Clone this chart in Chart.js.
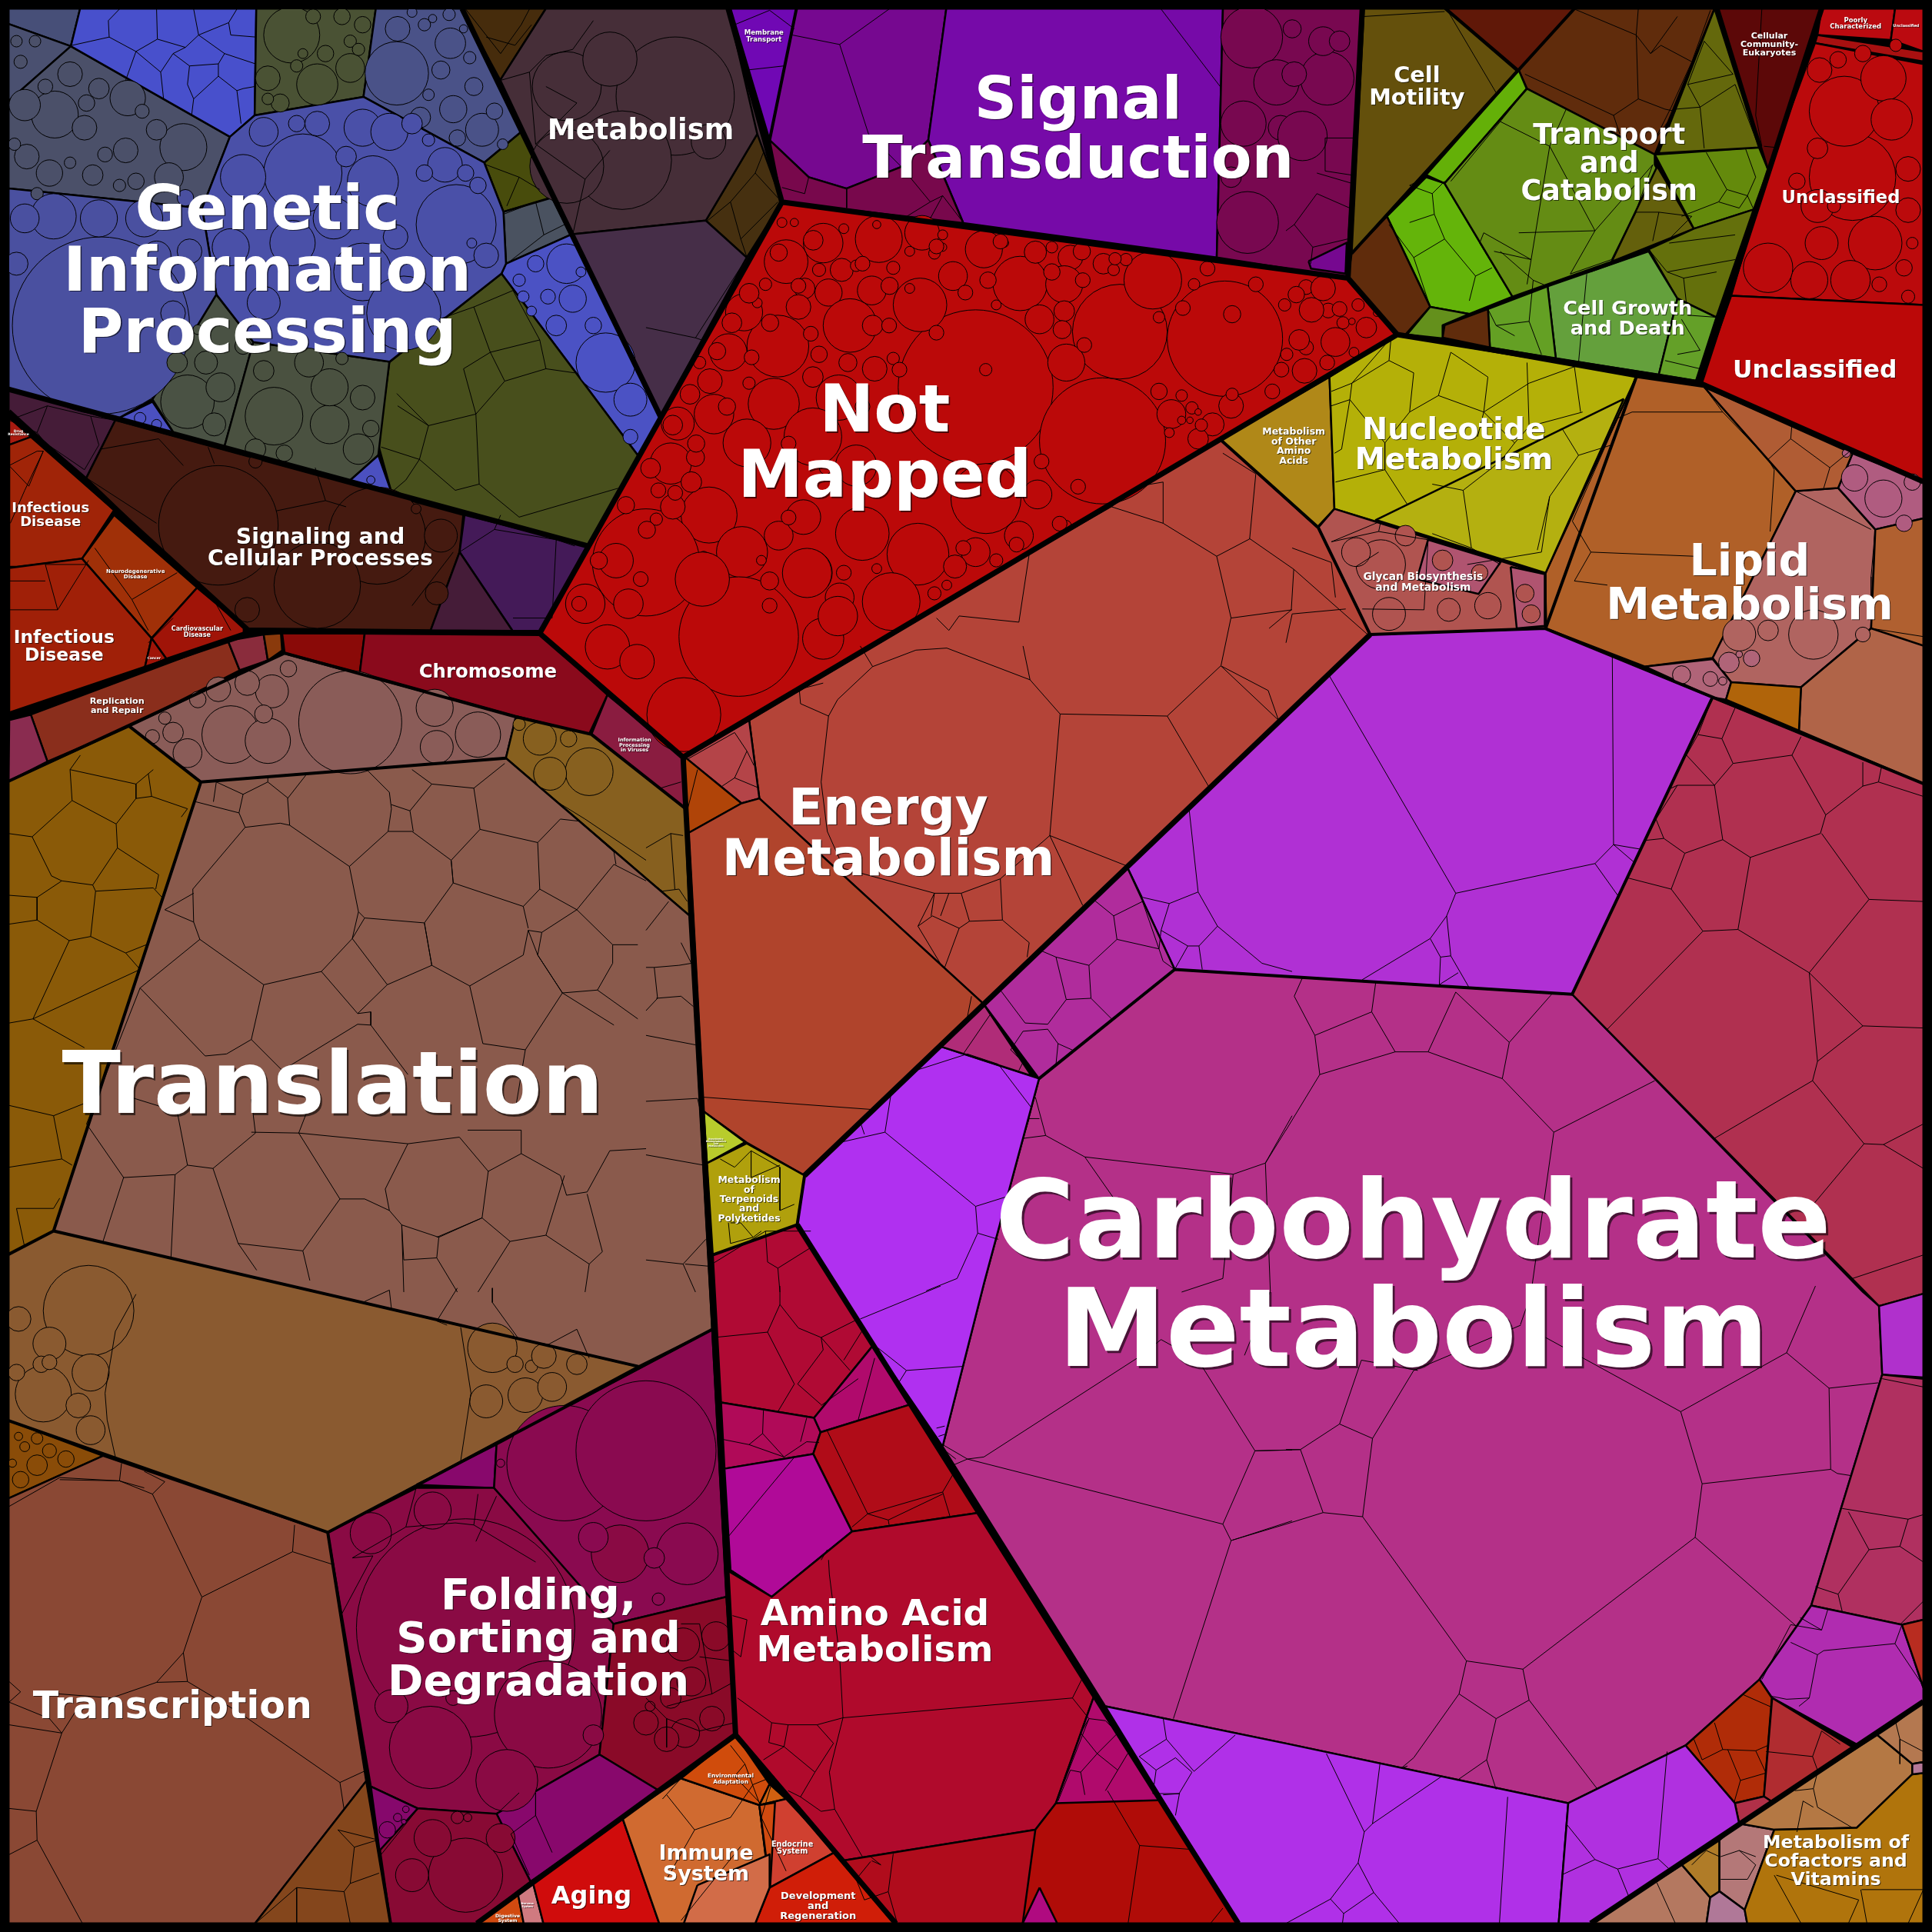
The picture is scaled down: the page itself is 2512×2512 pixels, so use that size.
<!DOCTYPE html>
<html>
<head>
<meta charset="utf-8">
<title>Proteomap</title>
<script src="https://cdn.jsdelivr.net/npm/chart.js@4"></script>
<style>
html,body{margin:0;padding:0;background:#000;}
canvas{display:block;}
</style>
</head>
<body>
<canvas id="chart" width="2512" height="2512"></canvas>
<script>
// cell outlines, x,y,x,y... on a 1568 wide grid
let geneticCells = [
 [7,7,65,7,57.5,37.5,7,19.4],[7,19.4,57.5,37.5,7,82],[7,82,57.5,37.5,186.6,111,164,169,7,153],
 [65,7,208,7,206.7,93.6,186.6,111,57.5,37.5],[208,7,305,7,295,78.6,206.7,93.6],
 [305,7,374.5,7,423,107,393,132,295,78.6],[423,107,448,160,408.6,172,393,132],
 [448,160.5,463,190.6,410.7,214,408.6,172],[463,190.6,524,311,536,338,518,370,407,222,410.7,214],
 [407,222,518,370,476.5,443,317.7,399.6,307,361,316,294],[175.6,239,205.6,277.6,182,363,142,353,123.7,324],
 [205.6,277.6,316,293.6,307,369.5,284,390,182,363],[307,369.5,317.7,399.6,284,390],[123.7,326,142,353,97,339],
 [206.7,93.6,295,78.6,393,132,408.6,172,410.7,214,407,222,316,293.6,205.6,277.6,175.6,239,164,169,186.6,111],
 [7,153,164,169,175.6,239,123.7,324,97,339,7,316]
];
let geneticColors = ["#474f78","#4a5070","#4b5069","#4850cc","#4a5234","#4a5288","#484c0c","#4a5260","#4b52c4","#484f1c","#4a5244","#4a5140","#4b50c0","#4b50c0","#4a50a8","#4a50a0"];

let signalingCells = [
 [7,316,93.6,341,70,388,7,334],[93.6,341,376,418,373,448,349.5,511.6,197,510,70,388],
 [377,418,476.5,443,438,512,416,512,373,448],[373,448,416,512,349.5,511.6]
];
let signalingColors = ["#451c38","#451a10","#441a58","#451c38"];

let diseaseCells = [
 [7.5,339,25,354.6,7.5,361],[7.5,361,25,354.6,92.6,414,66.6,453.4,13.5,460,7.5,460],
 [92.6,418,160,477,123,518,66.6,453.4],[7.5,461,66.6,453.4,123,518,117.5,542,7.5,580],
 [160,477,202,512,135,534.6,123,518],[123,518,135,534.6,117.5,542]
];
let diseaseColors = ["#a81a10","#a02408","#a03008","#a02008","#a01408","#a01408"];

let repairCells = [
 [25,580,185,520,194.5,544,106,589,38.5,618],[185,520,214,515,217.4,536,194.5,544],
 [7.5,584.5,25,580,38.5,618,27,624,7,634],[214,515,228,514,229,528,217.4,536],
 [229,514,296,514,292,546,231,530],[296,514,438,514,493,564,478,596,418,581,292,546],
 [493,564,554,614,556,656,480,596]
];
let repairColors = ["#8a2e1c","#8a2c3c","#8a2c50","#8a3a0c","#8a0a08","#8a0a1c","#8a1c40"];

let translationCells = [
 [105,589.5,230,530.3,418.7,581.8,410.6,615.3,163,634.7],[418.7,581.8,480,596,556,656,559.4,743,410.6,615.3],
 [163,634.7,410.6,615.3,559.4,743,578,1079,518,1109,43.5,999],[7,634,105,589.5,163,634.7,43.5,999,7,1018],
 [7,1018,43.5,999,518,1109,266,1244,7,1153],[7,1153,83.6,1181.5,7,1216],
 [7,1216,83.6,1181.5,266,1243.7,297.6,1445,207,1561,7,1561],[297.6,1445,317,1561,207,1561]
];
let translationColors = ["#8a5c58","#87601f","#8a5a4c","#8a5a08","#8a5a30","#8a4c08","#8a4834","#84461c"];

let foldingCells = [
 [338,1205,403,1172.4,401,1207.6],[266,1243.7,338,1207.6,401,1207.6,488,1304,498,1318,486.5,1424,403,1472.4,339,1467.7,301,1450],
 [403,1172.4,578,1079,589.5,1296,498,1318,401,1207.6],[498,1318,589.5,1296,597,1408,534.3,1453,486.5,1424],
 [403,1472,486.5,1424,534.3,1453,431,1528],[301,1450,339,1467.7,403,1472,431,1528,387,1561,317,1561],[301,1450,339,1467.7,308,1502]
];
let foldingColors = ["#88086c","#8a0a44","#8a0a50","#8a0a28","#88086c","#880a34","#86086c"];

let lowerCells = [
 [387,1561,420,1535,425,1561],[420,1535,432,1526,441,1561,425,1561],[432,1526,505,1475,535,1561,441,1561],
 [505,1475,552.7,1443.3,616.3,1465,624.6,1532,613,1561,535,1561],[552.7,1443.3,597,1408,624.6,1448,616.3,1465],
 [624.6,1448,638,1460,616.3,1465],[616.3,1465,638,1460,678,1503,624.6,1532],[616.3,1465,629,1463,625,1532],
 [624.6,1532,678,1503,727,1561,613,1561],[566,1530,624.6,1505,624.6,1532,613,1561,555,1561]
];
let lowerColors = ["#d24a10","#d07a80","#d00c0c","#d06a30","#d04c0c","#d06010","#d04030","#d04a10","#d01e08","#d26c48"];

let aminoCells = [
 [578.5,1018.5,647,994,708.9,1091.5,660.7,1150.7,585.2,1138.3],[585.2,1138.3,660.7,1150.7,666,1162.4,660,1180,588,1192],
 [708.9,1091.5,738.3,1140,666,1162.4,660.7,1150.7],[666,1162.4,738.3,1140,795,1227.6,691.5,1243,660,1180],
 [588,1192,660,1180,691.5,1243,626.3,1296,592.9,1274.4],
 [691.5,1243,795,1227.6,888.8,1374,857,1463.4,840.3,1485,684.8,1510,598,1410,590,1274.4,626.3,1296],
 [684.8,1510,840.3,1485,843.7,1532,830,1561,727,1561],[840.3,1485,857,1463.4,898.8,1453.3,944,1461,1005,1561,830,1561],
 [843.7,1532,858,1561,830,1561],[888.8,1374,944,1461,857,1463.4]
];
let aminoColors = ["#b00a34","#b00a58","#b00a6c","#b00c18","#b00a98","#b00a2c","#b00c1c","#b00c08","#b00a80","#b00a6c"];

let carbohydrateCells = [
 [843.3,875.4,953.4,786.8,1276,806.9,1512,1048.6,1525,1060,1527.6,1115.6,1470,1303,1428,1363,1368,1416.6,1272.8,1463.4,1043.7,1415,897,1384.8,765,1174,798.6,1041.6],
 [647,994,653,954,763.4,849.3,843.3,875.4,798.6,1041.6,765,1174,759,1165,708.9,1091.5],
 [914.9,704.2,1112,515,1254.4,510,1389.8,566,1276,806.9,953.4,786.8],
 [798.5,815,914.9,704,953.4,786.8,843.3,875.4],[798.5,815.2,837,873,763.4,849.3],
 [1389.8,566,1561,636,1561,1050,1525,1060,1276,807],[1525,1060,1561,1050,1561,1118,1527.6,1115.6],
 [1527.6,1115.6,1561,1119,1561,1314.6,1543.6,1318.6,1470,1303],
 [1470,1303,1543.6,1318.6,1561,1369.7,1561,1383,1508.5,1416.6,1438.3,1378,1428,1363],
 [1428,1363,1438,1378,1431.6,1458,1408,1463.4,1368,1416.6],[1438.3,1378,1503.5,1418,1438.3,1462.4,1431.6,1458],
 [1431.6,1458,1438.3,1462.4,1411.5,1480,1408,1463.4],[1543.6,1318.6,1561,1314.6,1561,1369.7],
 [897,1384.8,1043.7,1415,1272.8,1463.4,1265,1561,1005,1561],[1272.8,1463.4,1368,1416.6,1408,1463.4,1411.5,1480,1291,1561,1265,1561]
];
let carbohydrateColors = ["#b43088","#b030f0","#b030d4","#b02c9c","#b02c78","#b03050","#b030cc","#b03060","#b02cb0","#b02c08","#b02c30","#b03048","#b82c20","#b030e8","#b030e0"];

let cofactorCells = [
 [1291,1561,1365,1513.5,1388,1540,1385,1561],[1365,1513.5,1395.5,1493.5,1395.5,1535.3,1388,1540],
 [1395.5,1493.5,1411.5,1480,1440,1485,1416,1550,1395.5,1535],[1388,1540,1395.5,1535,1416,1550,1418,1561,1385,1561],
 [1411.5,1480,1523.6,1408,1552,1431.6,1552,1440,1507,1483.4,1440,1485],[1523.6,1408,1538.6,1398,1561,1381,1561,1430,1552,1431.6],
 [1440,1485,1507,1483.4,1552,1440,1561,1439,1561,1561,1418,1561,1416,1550],[1552,1431.6,1561,1430,1561,1439,1552,1440]
];
let cofactorColors = ["#b47860","#b07c28","#b47878","#b07898","#b47844","#b47850","#b0740c","#b47898"];

let energyCells = [
 [608,584.5,990.8,357,1069.8,428,1112,515,798.5,815,616.3,648],[556,614.6,608,584.5,616.3,648,601.8,652],
 [556,614.6,601.8,652,558.8,676,556,656],[558.8,676,601.8,652,616.3,648,798.5,815,653,954,606,927.3,571,902],
 [571,902,604.6,927,573.8,944],[573.8,944,606,928,653,954,647,994,578.5,1018.5]
];
let energyColors = ["#b44438","#b44448","#b04408","#b0442c","#b8cc2c","#b0a00c"];

let topCells = [
 [634,164,1094,225.7,1134,271.5,554.4,614.6,438,514],
 [375,7,591,7,634.6,164,536,338],[374.5,7,443,7,406,65],[614.6,108.7,634.6,164,606,209,572.8,179],
 [443,7,591,7,614.6,108.7,572.8,179,465,190,406,65],[465,190,572.8,179,606,209,536,338],
 [592.9,7,646.4,7,624.6,113.7],[646.4,7,768,7,753.4,113.7,731.6,135.4,687,153,656.4,143.8,624.6,113.7],
 [768,7,992.5,7,987.5,209,781.8,181,753.4,113.7],[624.6,113.7,656.4,143.8,687,153,731.6,135.4,753.4,113.7,781.8,181,634.6,164],
 [992.5,7,1105.6,7,1094,225.7,987.5,209],[1062,212,1093,197,1092,222,1064,218]
];
let topColors = ["#bb0909","#462e38","#462c0c","#463010","#462e38","#462e48","#7008b4","#760890","#760aa8","#78084c","#780850","#760890"];

let motilityCells = [
 [1107,7,1172.4,7,1231,57.5,1097,205.7],[1174,7,1277.8,7,1232.6,56.9],[1277.8,7,1391.5,7,1343,125.4,1239.3,72,1232.6,57],
 [1232.6,57,1239,72,1172.4,148.8,1157.4,142],[1157.4,143.8,1172.4,148.8,1227.6,240.8,1192.5,254.8,1160.7,249,1125.6,175.6],
 [1125.6,175.6,1160.7,249,1140.7,271.5,1134,271.5,1094,225.7,1097,205.7],
 [1239.3,72,1343,125.4,1343,133.8,1374.7,185.6,1308,212.3,1227.6,240.8,1172.4,148.8],[1345,135,1374.7,185.6,1308,212.3],
 [1343,125.4,1427.6,119.7,1435,137.8,1423.2,170,1374.7,185.6],[1391.5,7,1427.6,119.7,1346,124.4],
 [1423.2,170,1393,257.5,1361,242,1338,202.3,1374.7,185.6],[1338,204,1361.4,242.4,1346.3,304,1262.7,291,1256,232.4],
 [1361.4,242.4,1393,257.5,1376.4,309,1346.3,304],[1207.6,250.8,1256,232.4,1262.7,291,1209.2,282],
 [1172.4,264,1207.6,250.8,1209.2,282,1170.8,274],[1142,271.5,1160.7,249,1192.5,254.8,1170.8,264,1170.8,274.6],
 [1394.8,7,1478.4,7,1435,137.8],[1478.4,7,1538,7,1534.6,32.4,1475,28.4],[1538,7,1561,7,1561,41.8,1534.6,32.4],
 [1475,28.4,1561,41.8,1561,50,1473,35],[1473,35,1561,52,1561,247.5,1405,240,1435,137.8],[1405,240,1561,247.5,1561,389.6,1379.8,311]
];
let motilityColors = ["#64500c","#601808","#602c0c","#64b008","#64b40a","#602c0c","#648c14","#64600c","#648a0c","#64680c","#64700c","#64a03c","#64a028","#64a024","#602c0c","#64901c","#5c0808","#bb0a10","#bb0a10","#a81010","#bb0a0c","#bb0808"];

let lipidCells = [
 [1328,306,1383,314,1457.4,398.6,1408,498,1390,534,1335,541,1254.4,510,1254.4,465],
 [1457.4,398.6,1491.8,396,1522,429.7,1518.6,510,1461.7,557.7,1405,553.7,1390,534,1408,498],
 [1491.8,396,1503.5,368,1561,391,1561,420.7,1522,429.7],[1383,314,1503.5,368,1491.8,396,1457.4,398.6],
 [1522,429.7,1561,420.7,1561,527,1518.6,510],[1518.6,510,1561,524,1561,636,1460,593,1461.7,557.7],
 [1335,541,1390,535,1405,553.7,1400.8,567.8,1389.8,566],[1405,553.7,1461.7,557.7,1460,593,1400.8,567.8],
 [1079,306,1083,413,1069,428,990.8,357],[1079,306,1134,271.5,1328,306,1254,465,1083,413],
 [1317.9,323.7,1254.4,465,1116.6,422],
 [1083,413,1254,466.6,1255,510,1112,515,1070,428],[1159,438,1218,456,1200,482,1150,470],[1226,460,1253.7,466,1253.7,508,1231,510]
];
let lipidColors = ["#b06028","#b06460","#b05c80","#b05c34","#b06030","#b06448","#b06478","#b0640a","#b08818","#b4b008","#b4b010","#b05450","#b05470","#b05470"];

// thick group borders, drawn over everything else
let thickBorders = [
 [375,7,536,338],[634.6,164,1094,225.7,1134,271.5,554.4,614.6,438,514,634.6,164],[591,7,634.6,164],[1105.6,7,1094,225.7],
 [1134,271.5,1379.8,311,1561,391],[1379.8,311,1478.4,7],[7,316,476.5,443],[438,514,197,512],[7,334,202,512],[7,580,202,514],
 [554.4,614.6,577.8,1048.6,597,1408],[597,1408,387,1561],[597,1408,727,1561],[653,954,1112,515],[647,994,1005,1561],[1291,1561,1561,1381]
];
let mediumBorders = [
 [7,634,231,530,418.7,581.8,480,596,556,656],[1277.8,7,1097,205.7],[163,634.7,410.6,615.3],[1112,515,1254,510,1561,636],
 [990.8,357,1069.8,428,1112,515],[1254.4,510,1328,306],[843.3,875.4,953.4,786.8,1276,806.9,1389.8,566],[653,954,647,994,578.5,1018.5],
 [266,1243.7,578,1079],[7,1153,266,1243.7,297.6,1445,317,1561],[43.5,999,518,1109],[7,1018,43.5,999,163,634.7,105,589.5],
 [646.4,7,624.6,113.7]
];

// inner thin walls read on the 1568 grid
let wallsWide = [
 [999,501.6,991,540],[1048,495,1050,462,1014,437],[1050,462,1110,515],[1048,495,1030,510],[1000,1250,1043.7,1237],[1018.6,1177.5,1055,1176.5],[1027,944,1043.7,917],[1027,944,1031,1048,1010,1100],[1243,1049,1234,1075]
];
// inner thin walls, x,y,x,y... per zoom crop
let wallsZ1 = [
 [175,110,220,100,265,90,263,50,290,22],[265,90,330,125,382,95,380,22],[382,95,450,115,482,85,470,22],[330,125,305,195],[330,125,390,175,420,130,450,115],[390,175,397,240],
 [420,130,460,160,530,155,545,130,620,155],[482,85,555,55,575,22],[482,85,545,130],[555,55,560,85,622,90],[460,160,455,205,470,240,530,185,530,155],[530,185,575,220,590,215,618,210],[470,240,465,280],[575,220,585,300],
 [963,955,1040,1033,1155,1005,1225,925,1325,895,1395,905],[1125,895,1155,1005,1163,1175,1260,1255,1500,1185],[1125,895,1190,855,1150,745,1065,775],[1190,855,1310,825,1245,705,1150,745],[1310,825,1325,895],[1225,925,1190,855],[1040,1033,1018,1115,1105,1190,1163,1175],[965,985,1040,1033],[925,1085,1018,1115],[1018,1115,985,1165,950,1195],
 [245,1090,385,1065,445,1130],[380,1270,210,1160],[505,1085,520,1125],[670,1240,790,1215,765,1135],[840,1230,790,1215],[1000,1470,1100,1340],[1115,1340,1200,1285,1350,1310,1395,1325],[1200,1285,1215,1250],[1350,1310,1340,1500,1245,1500],
 [22,1020,115,985,90,1050,22,1020],[115,985,220,1010,240,1080,205,1140,110,1075,90,1050],[220,1010,280,1020],[110,1075,210,1160],
 [1285,175,1325,135,1390,120,1440,50],[1215,195,1285,175,1300,350,1420,435,1480,365],[1300,350,1400,250,1325,210],[1390,570,1420,435],
 [1130,22,1215,130,1265,60,1285,22],[1180,90,1250,110,1290,60],
 [1180,400,1260,430,1310,460],[1230,500,1260,430],[1222,520,1300,490,1320,570,1230,640],[1320,570,1380,540],
 [22,1130,70,1180,105,1095],[22,1130,90,1095,105,1095],[105,1095,60,1190,25,1270],[210,1370,110,1370,140,1480,215,1360],[22,1410,110,1410],[140,1480,22,1480],[230,1330,320,1455],[320,1455,430,1390],[320,1455,360,1530],
 [420,1500,360,1560],[510,1440,560,1530]
];
let wallsZ2 = [
 [0,550,145,535],[0,795,120,820,245,625],[120,820,135,825],[205,490,230,580,245,625],[205,490,265,420,285,370],[205,490,150,535],[265,420,320,480],[230,580,320,490],
 [355,85,470,108,590,22],[470,108,540,325,620,405],[1250,22,1395,212],[245,170,335,160],[215,60,300,25,360,70],[395,430,385,470,330,455],[487,458,487,505],[620,405,690,490,625,530],[690,490,720,475,770,540],[720,475,690,530],
 [905,1510,930,1345,1130,1230,1255,1270,1385,1350,1465,1308,1480,1150,1400,1100],[1385,1350,1420,1500,1568,1480],[905,1510,760,1495,735,1530,705,1500],[1255,1270,1255,1170,1195,1180,1130,1230]
];
let wallsZ3 = [
 [15,1490,145,1478],[15,1490,0,1560],
 [95,335,165,335,160,425,95,415,95,335],[20,545,75,470,155,505,150,580,65,600,20,545],[75,420,160,445],[0,560,20,545],[65,600,60,640],
 [390,22,510,225],[190,40,385,28],[700,22,850,85,885,130,910,110,985,150,935,260,895,340],[850,85,855,240,795,280,580,180],[855,240,920,265,945,270,895,340],[795,280,810,325],[855,22,850,85],[885,130,950,40],[985,150,1030,25],
 [1015,100,1085,180,975,205,1015,100],[975,205,1005,260,1090,205,1148,358],[1005,260,1015,360],[945,265,1005,260],
 [585,215,520,295,640,355,595,630,480,565],[520,295,400,440],[640,355,750,560,690,665],[750,560,565,565],[595,630,505,610],[750,560,890,400,850,510,790,630],[790,630,690,665],[640,355,680,265],[480,565,470,590,550,720],[595,630,585,690],
 [1070,460,1020,370],[1070,460,1120,475,1140,430,1115,360],[1070,460,1050,490,960,525],[1120,475,1100,505,1050,490],[1120,475,1135,508],
 [850,515,905,515,985,525,930,580],[850,515,805,605],[905,515,890,585],
 [880,605,925,660,1090,630],[925,660,965,675,1045,660],[965,675,975,765,1045,770],[930,590,1090,570],
 [730,665,710,880],[740,660,880,610],[950,860,1005,850,960,775],[920,875,1005,895],
 [520,610,600,680,590,780,510,790,490,750],[600,680,635,695],[590,780,620,860],[510,790,555,815],
 [300,540,360,520,385,580,310,625,250,545],[385,580,460,670,445,730],[310,625,350,745],[360,520,355,470,385,440],[460,670,500,650],[355,470,300,450,340,430],
 [1155,20,1140,280,1155,355],[1160,355,1190,358,1170,410],
 [840,1000,1060,1000,1170,1115,1235,1190],[840,1000,805,1015,695,1265,740,1340,990,1350],[740,1340,700,1410,780,1420],[1060,1000,1015,940],[1170,1115,1225,1065,1320,1135,1375,1090],[1225,1065,1228,1030],[1170,1115,1185,1140,1175,1290],[1320,1135,1305,1185],
 [1420,1285,1237,1192],[1430,1285,1420,1400,1420,1525,1547,1545],
 [110,950,160,930,255,820,250,875,310,905,300,1000,370,960,400,855,490,915,480,1000,590,930,700,890,715,1000],[250,875,160,930,155,970,110,985],[155,970,135,1090,118,1100],[300,1000,240,1075,155,970],[240,1075,240,1140,295,1225,220,1260],[370,960,480,1000,465,1060],[480,1000,555,1075,520,1120],[555,1075,590,1035,720,1000],[590,1035,585,880],[240,1140,120,1170],
 [440,1370,620,1340,640,1205,710,1105],[520,1120,670,1040,710,1105,790,1080],[355,1175,430,1190,450,1330,520,1370],[520,1120,430,1190],[450,1330,355,1295],[640,1205,610,1335],
 [110,1315,225,1290,345,1310,335,1480,185,1478],[225,1290,230,1265,110,1315],[170,1375,225,1340],[15,1330,110,1365,120,1450]
];
let wallsZ4 = [
 [595,440,680,430,703,435,848,535,870,645,855,710,780,790,640,822,485,712,470,670,468,590,595,440],[703,435,698,370,745,310,890,300,945,355,950,395,942,450,848,535],
 [942,450,1000,450,1095,520,1100,575,1030,672,885,660,870,645],[885,660,855,710,940,822,1048,775,1030,672],[780,790,868,892,940,822],[868,892,900,888,900,920,868,918],[640,822,610,955,685,1030,868,918],
 [610,955,550,990,498,995,340,830,485,712],[900,920,990,1040],[1048,775,1140,825,1172,965,1275,980,1365,842,1305,750,1282,690,1270,750],[1140,825,1270,750],[1030,672,1048,775],[1100,575,1270,632,1282,685],
 [1100,575,1095,520,1165,445,1305,477,1310,590,1270,632],[1310,590,1400,640,1490,530,1568,570],[1305,477,1360,420,1405,425,1490,500,1495,530],[1400,640,1315,695,1282,690],[1315,695,1305,750,1365,842,1450,835,1487,770,1487,725,1548,725],[1400,640,1487,725],[1450,835,1548,905],
 [1165,445,1150,345,1225,285],[1150,345,1048,335,995,400,1003,450],[995,400,950,385],[1048,335,1000,300],[470,600,400,640,470,670],[595,440,580,405,475,378],[580,405,590,360,650,330,700,370],[650,330,650,315],[590,360,525,330,518,378],
 [610,1180,725,1182,745,1130],[340,830,210,1160,300,1290,425,1283,455,1260,430,1130],[300,1090,430,1130],[300,1290,250,1445],[425,1283,415,1485],[455,1260,517,1268,620,1182,610,1100],[517,1268,578,1450,735,1468,825,1342,725,1182],[578,1450,623,1515],[735,1468,752,1540],
 [825,1342,885,1342,945,1370,935,1318,990,1208,1115,1192,1185,1275,1170,1388,1065,1435,975,1405,945,1370],[975,1405,980,1490,1060,1485,1065,1435],[1060,1435,1170,1388,1238,1445,1325,1430,1430,1500,1462,1470,1425,1330],[1185,1275,1265,1232,1360,1285,1375,1333,1425,1325,1480,1225,1568,1220],[1370,1285,1325,1430],[1265,1232,1265,1175,1135,1175],[1275,980,1250,1130],[725,1182,990,1208],[1238,1445,1160,1568],[975,1405,980,1568],[1060,1485,1110,1568],[1430,1500,1420,1568],[1365,842,1490,920],
 [20,455,78,463,175,375,282,432,285,490,225,580,150,570,125,558,78,463],[175,375,170,300,195,265],[170,300,330,335,372,300],[330,335,330,370,368,365,360,310],[368,365,455,395,440,415],[282,432,330,370],[285,490,385,555,378,590],[225,580,232,595,372,587,395,612],[150,570,90,610,22,605],[90,610,90,665,168,715,220,705,232,595],[90,665,22,675],[220,705,305,745,340,785,80,905,168,715],[80,905,22,915],[80,905,205,975],[130,1140,22,1115],[130,1140,205,1110],[130,1140,150,1245,22,1265],[150,1245,175,1260],[40,1365,130,1365,145,1340],[40,1365,60,1460],[305,745,355,725],
 [1355,380,1420,420,1568,520]
];
let wallsZ5 = [
 [932,82,1005,165,1265,170,1365,340],[1005,165,980,460,1170,535],[1265,170,1395,48,1535,180,1510,108,1395,48],[915,0,932,82,730,5,655,10,550,50,465,130,443,170,375,140,372,105,430,90],[443,170,425,330,440,450],[550,50,520,0],[980,460,1060,630],[860,565,765,600,700,600,660,680,720,780],[860,565,865,665,785,668,765,600],[785,668,760,685,695,655,660,680],[865,665,930,720,925,755],[760,685,725,780],[700,600,692,655],[735,600,715,655],[440,450,480,540,700,600],[980,460,860,565],
 [100,275,215,210,245,255,215,320,185,340],[245,255,262,290],[215,320,275,345],[140,1095,550,1125],[790,850,780,900],[125,300,100,400],[250,180,275,370],
 [580,1180,800,1360,805,1425,855,1440],[580,1180,595,1085,655,1030,780,990,855,1015,935,1120],[800,1360,880,1335],[580,1180,470,1205,520,1155,530,1185],[805,1425,755,1535,680,1565],[650,1030,715,972],
 [860,835,920,915,975,918,1020,858,995,755,1075,775,1143,712,1135,655,1088,617],[975,930,915,935,885,980,955,1050],[975,930,1000,965,995,1015],[1000,965,1038,982],[1020,858,1080,855,1130,905],[1080,855,1075,775],[1143,712,1245,735,1205,620,1135,655],[1245,735,1255,765,1283,785],[995,755,960,740,860,835],[770,990,835,895],[905,1030,915,1010,935,1040],
 [1170,538,1205,610,1270,625,1340,597,1318,395],[1340,597,1387,680,1495,770,1568,790],[1387,680,1342,728,1350,785],[1342,728,1315,728,1250,690,1270,625],[1315,728,1283,785],[1250,690,1245,735],
 [945,1095,970,1188,1065,1240,1425,1282,1503,1255,1568,1140],[1065,1240,1135,1340],[970,1188,915,1195,930,1147,955,1147],[1425,1282,1400,1535,1300,1568],
 [0,690,55,620],[0,780,20,780,80,775,110,770,85,720],[25,855,85,850,115,875],[20,780,28,855,0,885],[0,945,120,968],[0,1105,125,1098,130,1120],[0,1235,140,1260],[0,1490,90,1500,145,1440],[90,1500,120,1568],[95,1500,150,1505],
 [160,1500,290,1420,295,1495,320,1510,400,1460],[290,1420,400,1420],[320,1510,325,1568],[0,490,60,455,90,460],[60,455,70,590],[0,565,40,595,80,590,100,620],
 [180,1245,215,1265,255,1225,325,1265,325,1370,360,1355],[255,1225,255,1290,325,1260],[200,1400,205,1450,260,1435,230,1400,205,1400],[260,1435,280,1420],[35,345,85,330]
];
let wallsZ6 = [
 [105,72,412,600,390,655,350,710,185,810],[412,600,750,528,795,482,792,25],[750,528,805,605],[795,482,860,493],[795,482,845,525],[390,655,400,752,375,755,350,710],[375,755,372,825],[400,752,445,830],[372,822,418,793],
 [695,845,645,845,542,962,412,840,345,985,265,985,208,888,218,815],[542,962,525,1050,345,985],[208,888,70,945,20,850,40,805],[70,945,82,1040,265,985],[82,1040,0,1175],[525,1050,650,1180,895,1055],[650,1180,595,1568],
 [1035,125,1000,215,1058,225,1090,150],[1058,225,1085,285,1228,265,1250,220],[1085,285,1040,338,1060,470,1127,513,1297,455,1310,410,1228,265],[1040,338,950,338,935,345],[1040,338,972,265],[1000,215,972,265],[1060,470,968,503,917,467,898,420],[917,467,870,472],[950,338,898,420],[968,503,935,590,830,563],[1127,513,1097,688,1012,692,935,590],[1012,692,780,930],[1097,688,1270,793,1290,1008,1278,1055,1040,1195],[1270,793,1415,615,1547,620],[1415,615,1300,455],[1310,410,1400,340,1438,330,1547,365],[1400,340,1400,282],[1438,330,1445,295],[1270,793,1400,922,1547,927],[1400,922,1290,1008],[1278,1055,1403,1208,1450,1210,1547,1160],[1403,1208,1280,1355],[1450,1210,1547,1268],[1375,1535,1547,1478],[1040,1195,1190,1345]
];
let wallsZ7 = [
 [330,20,280,110,255,260,260,325,280,415],[1118,100,1143,260,1118,425],[880,40,945,10,950,55],[1110,5,1060,85,1085,95],[1195,5,1195,40,1260,130],[1400,105,1325,145],[1400,105,1430,175],
 [295,430,290,473,145,465,22,535],[145,470,290,473,370,505,490,755,445,890,380,962,270,1000,80,985],[370,505,400,475,350,450],[290,473,350,490],[490,755,710,645,805,675],[710,645,715,580],[445,890,455,960,380,962],[455,960,580,1035,825,1205,890,1175],[825,1205,835,1270],[835,1270,620,1547],[150,1085,88,1275,90,1345,200,1547],[150,1085,185,1030],[150,1085,22,1065],[88,1275,22,1268],[22,1380,90,1345],[22,960,50,985,22,1010,120,1050,150,1085],
 [820,1320,860,1362,850,1450,835,1470,720,1460,620,1547],[820,1320,920,1345],[860,1362,915,1345],[850,1450,920,1425],[835,1470,850,1547],[720,1460,720,1547],
 [1300,1230,1300,1285,1240,1330],[1300,1285,1340,1375],[1240,1330,1285,1430],[900,1215,1015,1268,925,1380],
 [1205,1282,1260,1230],[1010,490,985,585,1105,575,1150,580,1300,670],[985,585,855,660,905,655,830,795],[1150,580,1160,505],[1155,620,1205,510]
];
let wallsZ8 = [
 [720,385,780,420,1400,578,1478,400,1340,180,1250,130,1200,170,820,415],[1400,578,1420,618,1280,1050],[1420,618,1568,570],[1478,400,1568,398],[780,420,745,435],[720,395,752,420],[820,415,780,420],
 [632,205,770,195],[550,140,632,205,615,232],[520,80,715,0],[705,345,725,340],[710,365,725,360],
 [443,665,445,700,470,900,478,1048,1035,1000,1060,950],[478,1048,445,1180,458,1270,525,1385],[1035,1000,1075,1050,995,1255],[478,1048,415,1065,345,1065,305,1060,222,1000],[415,1065,455,1110,410,1180,335,1118,285,1150],[410,1180,375,1240,425,1275,458,1270],[305,1060,298,1108,335,1118],[345,1065,335,1118],[375,1240,345,1225],[440,640,425,665],
 [600,1378,588,1470,610,1547],[545,1385,570,1405,548,1395],[588,1470,530,1490],[545,1397,510,1440,530,1490],[1120,1225,1198,1358,1170,1547],[1198,1358,1330,1368],[1400,1510,1370,1547],
 [1075,1050,1115,1055,1145,1085,1095,1135,1055,1085,1075,1050],[1145,1085,1175,1125,1145,1175,1095,1135,1055,1180,1030,1175],[1145,1175,1115,1225],[1055,1180,1065,1235],[1030,1175,1000,1250],
 [165,125,295,112,360,238,320,305],[295,112,325,45,370,102,425,125,495,205],[325,45,325,0],[425,125,430,155,368,238,425,288],[425,125,515,80],[480,180,525,108],
 [285,302,283,358,335,415,250,385,185,372],[283,358,250,385],[335,415,390,378,420,380],[390,320,375,378],[555,175,515,325],[425,290,515,225],
 [440,352,538,553,500,585],[538,553,720,500,748,452],[720,500,738,560],[538,553,588,568,590,580],[588,568,720,505],[358,418,200,608],[205,688,305,755],
 [1255,1048,1263,1100,1330,1178,1430,1090],[1263,1100,1197,1142,1238,1175,1285,1145,1325,1180,1295,1230,1285,1285],[1238,1175,1230,1232,1295,1232],[1255,1235,1295,1232],
 [205,1290,260,1210,310,1190,280,1290,340,1420],[50,1235,118,1320,50,1440],[118,1320,205,1290],[85,1540,230,1360],[40,1245,85,1195],
 [210,800,245,810,230,900],[205,880,230,900],[0,1000,50,1050,130,1080,215,1060],[50,1050,50,1120],[130,820,160,990,50,1020],[130,820,85,820],[160,990,215,960],[130,900,210,910],
 [205,1115,240,1160,275,1255],[240,1160,215,1190,280,1258]
];
let wallsZ9 = [
 [280,1170,310,1145,420,990,510,1050,590,1005,575,930,438,910,186,560,210,370,310,205,570,95],[186,560,90,550,35,397,130,335,210,370],[90,550,0,578],[35,397,0,397],[130,335,183,180],[183,180,320,205],
 [575,930,993,610,1010,480,958,305,630,125],[958,305,1215,162,1285,0],[1215,162,1318,248,1437,235],[1318,248,1322,445,1338,455,1370,460],[1322,445,1010,480],[993,610,1238,825],[590,1005,755,1220],[510,1050,487,1150,510,1222],[487,1150,415,1200],[438,910,420,990],[295,1165,280,1170],
 [98,1135,190,1325,210,1305,378,1190],[228,1160,210,1305],[190,1325,175,1400,108,1488,0,1547],[175,1400,213,1472,140,1523,108,1488],[213,1472,275,1547],[140,1523,137,1547],[538,1240,518,1547],[680,1305,750,1392,672,1428],[750,1392,805,1415,903,1390,925,1130],[903,1390,930,1415],[805,1415,832,1482],
 [1315,785,1300,835,1225,822,1155,955],[1225,865,1290,895,1305,885,1478,868,1545,968],[1290,895,1270,1000,1215,1003,1175,995],[1245,1020,1270,1000],[1245,1035,1390,1115],[1248,805,1300,835],[1478,868,1495,822],
 [1040,1060,1060,1125,1140,1128,1170,1115],[1060,1125,1010,1150,990,1100],[1110,992,1178,1022],[1072,1125,1103,1200,1165,1182],[1140,1128,1165,1182],[1103,1200,1088,1252],[1300,1080,1278,1142,1165,1130],[1278,1142,1290,1175],[1300,1080,1345,1112],
 [1447,225,1547,245],[1350,540,1510,566,1547,555],[1365,548,1415,640,1490,632,1547,670],[1510,566,1490,632],[1415,640,1340,748,1285,730],[1340,748,1350,790],[1547,765,1490,822],
 [900,1448,945,1547],[1280,1220,1290,1265,1375,1315],[1235,1225,1280,1220],[1240,1325,1255,1250,1280,1265],[1185,1430,1250,1547],[1190,1430,1390,1490,1365,1547],[1397,1465,1547,1465],[1510,1547,1547,1465],[1395,1465,1410,1547],[1280,1220,1290,1180,1435,1090],
 [985,1405,1020,1370,1052,1385],[1055,1385,1100,1370,1140,1405,1120,1440,1055,1440],[1100,1370,1140,1385],[1490,1100,1490,1160],[1480,1060,1490,1100,1547,1130]
];

// small rounded cells as x,y,r, r in the same crop units
let slateCells = [133,278,57,445,357,57,120,420,32,205,310,30,310,238,43,305,365,30,380,315,25,65,380,30,60,255,38,225,425,25,410,430,35,255,375,18,170,180,30,240,215,25,345,270,17,35,350,15,330,440,20,290,450,15,210,250,20,110,210,18,170,395,14,90,470,15,50,150,16,85,100,14,40,100,14];
let oliveTopCells = [708,85,68,770,205,50,850,165,35,650,190,30,680,250,22,720,160,15,880,60,20,850,100,15,830,40,20,760,40,18,650,240,14,735,130,12,870,120,15,790,130,20];
let blueGrayCells = [963,178,77,1093,105,37,965,70,30,1170,315,40,1100,265,33,1070,170,22,1150,210,22,1020,285,25,1030,60,15,1090,35,15,1000,30,12,1200,270,20,1220,350,13,1040,230,14,1110,335,20,1140,140,15,1050,45,10,1125,70,10];
let mainBlueCells = [1107,545,97,735,420,95,905,440,62,590,430,55,880,310,45,945,320,45,710,590,55,640,320,35,770,300,30,1080,400,42,960,575,30,880,660,70,980,760,90,640,735,40,560,600,45,810,530,50,1160,450,20,1130,420,20,1180,620,30,1030,420,20,840,380,25,720,300,20,1000,300,25,1040,340,15,1145,590,12];
let leftBlueCells = [245,790,215,130,525,55,240,530,45,60,530,35,350,530,45,380,620,35,460,610,30,40,640,28,450,480,20,420,760,30];
let rightBlueCells = [1375,640,48,1390,725,33,1470,880,72,1530,970,40,1300,640,20,1260,680,15,1330,720,18,1290,755,12,1350,790,25,1440,790,20,1270,720,14,1410,660,12,1530,1060,18];
let grayGreenCells = [455,975,65,535,940,35,500,880,28,590,840,20,520,1030,28,430,880,25,480,800,12];
let grayCells = [665,1010,70,800,1030,47,800,940,45,880,965,30,870,1090,37,750,880,35,640,900,25,900,1040,20,620,1090,25,690,1100,20,830,870,15];
let signalingCellsZ1 = [530,1275,145,915,1300,118,770,1420,105,1070,1300,40,1060,1440,28,600,1480,30,620,1120,16,1010,1235,12];
let notMappedZ2 = [800,940,188,1108,1070,153,1405,822,140,1150,805,115,1230,680,70,908,688,66,820,605,45,565,580,57,430,590,48,340,635,53,670,565,42,945,612,27,1030,625,30,1110,640,25,745,670,35,665,740,65,548,705,35,475,655,28,443,710,33,495,790,65,320,840,75,238,758,45,200,855,45,155,925,30,165,1005,48,310,980,62,468,965,55,405,1060,70,245,1075,58,77,1028,40,153,1250,68,60,1125,50,395,1390,57,233,1340,62,322,1300,35,382,1255,42,525,1295,65,660,1345,75,825,1210,85,595,1460,70,0,1365,130,225,1545,145,430,1550,50,950,1200,35,1020,880,45,1275,1005,35,1375,1030,28,1420,985,30,1340,1065,25,1015,690,45,955,775,35,1015,755,25,1010,800,22,385,700,25,370,745,30,510,1130,50,65,1230,30,110,1170,25,555,895,30,405,915,25,800,1340,35,905,1300,35,750,1375,28,470,1450,35,290,690,15,270,735,12,420,655,16,510,645,14,600,650,16,640,610,12,700,615,14,720,600,10,775,710,18,830,680,20,850,740,12,985,660,20,1060,680,18,1135,655,14,1165,630,15,130,880,15,110,960,12,250,930,15,400,810,18,420,860,20,490,880,22,550,790,25,590,790,18,1245,770,14,1330,690,14,1480,690,18,1550,740,15,1555,860,15,1520,950,18,1245,950,20,1300,960,14,1325,990,15,1340,1000,8,1320,1020,8,1300,1020,10,1270,1050,12,120,1110,22,30,1190,18,25,1260,15,140,1350,12,150,1395,14,280,1360,12,300,1410,22,300,1470,18,480,1390,18,560,1380,12,700,1440,16,730,1420,12,770,1330,18,850,1360,16,1020,1275,12,960,1120,18,600,870,15,640,700,12,330,540,12,360,540,10,480,555,12,560,545,10,720,570,12,870,590,10,985,600,14];
let notMappedWide = [555,580,30,655,465,20,493,525,18,517,537,14,475,490,16,510,490,12,570,470,22,500,455,14,680,500,16];
let notMappedGaps = [660,195,8,632,205,7,608,238,8,594,262,8,582,285,7,560,320,8,546,345,8,528,380,8,508,410,7,486,455,7,470,490,6,648,232,6,625,262,7,610,290,6,590,330,7,565,360,7,548,400,6,525,430,7,520,470,6,700,214,6,722,232,7,760,200,6,812,196,6,878,204,7,905,210,5,980,218,6,1000,255,7,1060,233,6,1078,252,6,1090,262,5,1060,282,6,1040,300,6,1000,320,5,975,345,5,875,395,6,860,425,6,825,442,6,730,300,6,700,330,6,670,380,5,640,360,6,640,420,6,760,270,6,800,300,5,880,280,6,960,250,6];
let unclassifiedZ3 = [1375,430,105,1355,270,85,1450,190,55,1470,290,50,1430,590,65,1300,590,40,1370,680,48,1270,680,45,1170,650,60,1290,360,25,1400,130,20,1295,170,30,1340,145,20,1510,410,30,1500,650,20,1290,500,40,1510,510,30,1240,440,20,1480,110,15,1510,720,16,1440,690,18,1330,500,16,1520,590,14];
let notMappedZ3 = [62,752,30,32,825,25,120,830,35,195,795,25,130,750,18,175,740,15,25,715,20,90,700,30,220,760,8,160,780,8,45,900,30,100,880,18,165,855,12];
let metabolismWide = [548,78,48,505,130,40,460,135,30,460,70,28,495,48,22,575,115,14];
let magentaRightZ2 = [1470,90,75,1530,200,55,1450,300,55,1460,540,75,1540,310,30,1420,430,25];
let magentaRightZ3 = [40,330,60,100,190,65,90,100,35,130,100,25,20,180,30,15,70,22];
let pinkTopZ4 = [850,185,125,560,215,70,650,230,55,1160,215,55,455,260,35,660,110,40,600,90,30,530,105,30,480,130,20,420,210,25,370,220,17,1055,150,45,1060,245,40,400,175,15,700,55,20,640,165,22];
let orangeBrownZ4 = [1310,225,40,1430,305,58,1335,310,40,1260,190,15,1380,225,20];
let midBrownZ7 = [215,60,110,105,262,68,220,210,45,190,290,30,220,350,35,120,140,40,45,80,30,100,190,20,120,185,18,40,210,20,1275,265,42,1195,150,60,1180,280,40,1340,245,35,1250,190,20,1290,195,15,1400,190,25,1320,170,30];
let goldSmallZ7 = [90,435,25,50,470,20,60,390,12,120,400,17,160,420,20,30,430,10,45,365,10,90,370,14];
let foldingZ7 = [1130,830,265,1330,1040,130,1045,1120,100,1050,545,45,900,600,50,1230,1200,75,1505,650,70,1440,1090,25,1100,1000,18,950,1020,40];
let foldingUpperZ7 = [1370,430,140,1215,430,10,1440,610,36];
let foldingLowerZ7 = [1130,1430,90,1050,1340,45,1000,1430,40,1215,1340,35,1110,1290,15,1135,1290,10];
let foldingZ8 = [0,400,170,100,650,75,20,660,25,30,760,15];
let darkRedZ8 = [95,1085,35,50,1100,30,0,1060,30,160,1050,30,110,960,35,60,1000,25,170,850,35,90,870,40,10,1020,12];
let purpleSmallZ7 = [940,1320,20,985,1270,8,965,1290,10,980,1300,6];
let pinkRightZ3 = [1450,1210,45,1380,1160,32,1520,1170,20,1500,1270,20,1360,1100,10];
let lipidPinkZ6 = [1075,40,25,1130,30,20,1100,20,8,1030,80,18,1060,85,10,960,70,22];
let glycanZ3 = [230,1370,60,380,1360,25,290,1300,25,170,1340,35,490,1470,32,395,1480,28,250,1490,40,580,1440,22,595,1490,22,470,1390,20];
let lipidRightZ3 = [1100,1540,40,1170,1530,25,1280,1540,60,1400,1540,18];
let blueLowZ1 = [340,1015,14,380,1030,12,900,1165,10];

// dataset rows: which cells, in which crop, in what colour
let bubbleRows = [
 [slateCells,"z1","#4b5069"],[oliveTopCells,"z1","#4a5234"],[blueGrayCells,"z1","#4a5288"],[mainBlueCells,"z1","#4a50a8"],[leftBlueCells,"z1","#4a50a0"],[rightBlueCells,"z1","#4b52c4"],[grayGreenCells,"z1","#4a5244"],[grayCells,"z1","#4a5140"],[signalingCellsZ1,"z1","#451a10"],[blueLowZ1,"z1","#4b50c0"],
 [notMappedZ2,"z2","#bb0909"],[notMappedWide,"ov","#bb0909"],[notMappedGaps,"ov","#bb0909"],[notMappedZ3,"z3","#bb0909"],[unclassifiedZ3,"z3","#bb0a0c"],[metabolismWide,"ov","#462e38"],[magentaRightZ2,"z2","#780850"],[magentaRightZ3,"z3","#780850"],
 [pinkTopZ4,"z4","#8a5c58"],[orangeBrownZ4,"z4","#87601f"],[midBrownZ7,"z7","#8a5a30"],[goldSmallZ7,"z7","#8a4c08"],[foldingZ7,"z7","#8a0a44"],[foldingUpperZ7,"z7","#8a0a50"],[foldingLowerZ7,"z7","#880a34"],[foldingZ8,"z8","#8a0a50"],[darkRedZ8,"z8","#8a0a28"],[purpleSmallZ7,"z7","#86086c"],
 [pinkRightZ3,"z3","#b05c80"],[lipidPinkZ6,"z6","#b06478"],[glycanZ3,"z3","#b05450"],[lipidRightZ3,"z3","#b06460"]
];

// crop origin and scale back to the 1568 grid
let crops = {ov:[0,0,1],z1:[0,0,.3344],z2:[524.3,0,.3344],z3:[1043.7,0,.3344],z4:[0,524.3,.3344],z5:[524.3,524.3,.3344],z6:[1043.7,524.3,.3344],z7:[0,1043.7,.3344],z8:[524.3,1043.7,.3344],z9:[1043.7,1043.7,.3344]};
let wallRows = [[wallsWide,"ov"],[wallsZ1,"z1"],[wallsZ2,"z2"],[wallsZ3,"z3"],[wallsZ4,"z4"],[wallsZ5,"z5"],[wallsZ6,"z6"],[wallsZ7,"z7"],[wallsZ8,"z8"],[wallsZ9,"z9"]];

// labels, "\n" breaks a line
let labelTexts = ["Carbohydrate\nMetabolism","Translation","Genetic\nInformation\nProcessing","Signal\nTransduction","Not\nMapped","Energy\nMetabolism","Lipid\nMetabolism","Folding,\nSorting and\nDegradation","Transcription","Amino Acid\nMetabolism","Metabolism","Signaling and\nCellular Processes","Chromosome","Infectious\nDisease","Infectious\nDisease","Neurodegenerative\nDisease","Cardiovascular\nDisease","Cancer","Drug\nResistance","Replication\nand Repair","Membrane\nTransport","Cell\nMotility","Transport\nand\nCatabolism","Cell Growth\nand Death","Unclassified","Unclassified","Unclassified","Poorly\nCharacterized","Cellular\nCommunity-\nEukaryotes","Nucleotide\nMetabolism","Metabolism\nof Other\nAmino\nAcids","Glycan Biosynthesis\nand Metabolism","Metabolism\nof\nTerpenoids\nand\nPolyketides","Immune\nSystem","Aging","Environmental\nAdaptation","Endocrine\nSystem","Development\nand\nRegeneration","Digestive\nSystem","Nervous\nSystem","Metabolism of\nCofactors and\nVitamins","Information\nProcessing\nin Viruses","Xenobiotics\nBiodegradation\nand\nMetabolism"];
let labelX = [1147,270,217,875,718,721,1420,437,140,710,520,260,396,41,52,110,160,125,15,95,620,1150,1306,1321,1494,1473,1547,1506,1436,1180,1050,1155,608,573,480,593,643,664,412,428,1490,515,581];
let labelY = [1035,880,219,104,359,676,473,1329,1384,1324,105,444,545,417.5,524,466,512.5,534,351,572.5,29,70,132,258,160,300,21,18.7,36,360.5,362,472,973,1512,1538,1443.5,1499.5,1546.5,1557,1546,1510,604.5,927];
let labelSizes = [141,112,80,77,85,66,57,56,49,47,37,28.4,24.4,18,23.4,7,8,4.5,4.5,11.2,8.5,28.8,36.5,25.6,22.6,31.4,5,8.5,11,39.3,12.5,13.8,12.4,27,32,7.3,9.7,13,6,3.5,23.7,6.5,3];

let flatToPoints = (flat,crop)=>{
    let [ox,oy,s] = crops[crop];
    let points = [];
    for (let i = 0; i < flat.length; i += 2) {
        points.push({x:ox+flat[i]*s,y:oy+flat[i+1]*s});
    }
    return points;
}

let datasets = [];
let order = 9000;

let addCells = (cells,colors)=>{
    cells.forEach((cell,index)=>{
        let points = flatToPoints(cell,"ov");
        points.push(points[0]);
        datasets.push({
            type:"scatter",showLine:true,data:points,order:order--,pointRadius:0,tension:0,
            fill:"shape",backgroundColor:colors[index],borderColor:"#000",borderWidth:2.5,borderJoinStyle:"round"
        });
    })
}
addCells(geneticCells,geneticColors);
addCells(signalingCells,signalingColors);
addCells(diseaseCells,diseaseColors);
addCells(repairCells,repairColors);
addCells(translationCells,translationColors);
addCells(foldingCells,foldingColors);
addCells(lowerCells,lowerColors);
addCells(aminoCells,aminoColors);
addCells(carbohydrateCells,carbohydrateColors);
addCells(cofactorCells,cofactorColors);
addCells(energyCells,energyColors);
addCells(topCells,topColors);
addCells(motilityCells,motilityColors);
addCells(lipidCells,lipidColors);

bubbleRows.forEach(row=>{
    let [cells,crop,color] = row;
    let [ox,oy,s] = crops[crop];
    let points = [];
    for (let i = 0; i < cells.length; i += 3) {
        // bubble radius goes in canvas pixels
        points.push({x:ox+cells[i]*s,y:oy+cells[i+1]*s,r:cells[i+2]*s*1.602});
    }
    datasets.push({type:"bubble",data:points,order:order--,backgroundColor:color,borderColor:"#000",borderWidth:1,hoverRadius:0});
})

let addLines = (rows,crop,width)=>{
    let points = [];
    rows.forEach(row=>{
        points = points.concat(flatToPoints(row,crop));
        points.push({x:null,y:null});
    })
    datasets.push({
        type:"scatter",showLine:true,data:points,order:order--,pointRadius:0,tension:0,spanGaps:false,
        fill:false,borderColor:"#000",borderWidth:width,borderJoinStyle:"round"
    });
}
wallRows.forEach(row=>{
    addLines(row[0],row[1],1);
})
addLines(mediumBorders,"ov",4);
addLines(thickBorders,"ov",7);

let labelPlugin = {
    id:"labels",
    afterDatasetsDraw(chart){
        let ctx = chart.ctx;
        let xScale = chart.scales.x;
        let yScale = chart.scales.y;
        // frame round the whole map
        ctx.save();
        ctx.strokeStyle = "#000";
        ctx.lineWidth = 24;
        ctx.strokeRect(0,0,chart.width,chart.height);
        ctx.textAlign = "center";
        ctx.textBaseline = "middle";
        labelTexts.forEach((text,index)=>{
            let size = labelSizes[index];
            let lines = text.split("\n");
            let x = xScale.getPixelForValue(labelX[index]);
            let y = yScale.getPixelForValue(labelY[index])+size*0.075;
            ctx.font = "bold "+size+"px 'DejaVu Sans'";
            let shadow = Math.max(1,size*0.02);
            lines.forEach((line,lineIndex)=>{
                let lineY = y+(lineIndex-(lines.length-1)/2)*size*1.0;
                ctx.fillStyle = "rgba(0,0,0,0.6)";
                ctx.fillText(line,x+shadow,lineY+shadow);
                ctx.fillStyle = "#fff";
                ctx.fillText(line,x,lineY);
            })
        })
        ctx.restore();
    }
};

let chart = new Chart(document.getElementById("chart"),{
    type:"scatter",
    data:{datasets:datasets},
    plugins:[labelPlugin],
    options:{
        responsive:false,
        animation:false,
        layout:{padding:0,autoPadding:false},
        plugins:{legend:{display:false},tooltip:{enabled:false},title:{display:false}},
        events:[],
        scales:{
            x:{type:"linear",min:0,max:1568,display:false},
            y:{type:"linear",min:0,max:1568,reverse:true,display:false}
        }
    }
});
</script>
</body>
</html>
